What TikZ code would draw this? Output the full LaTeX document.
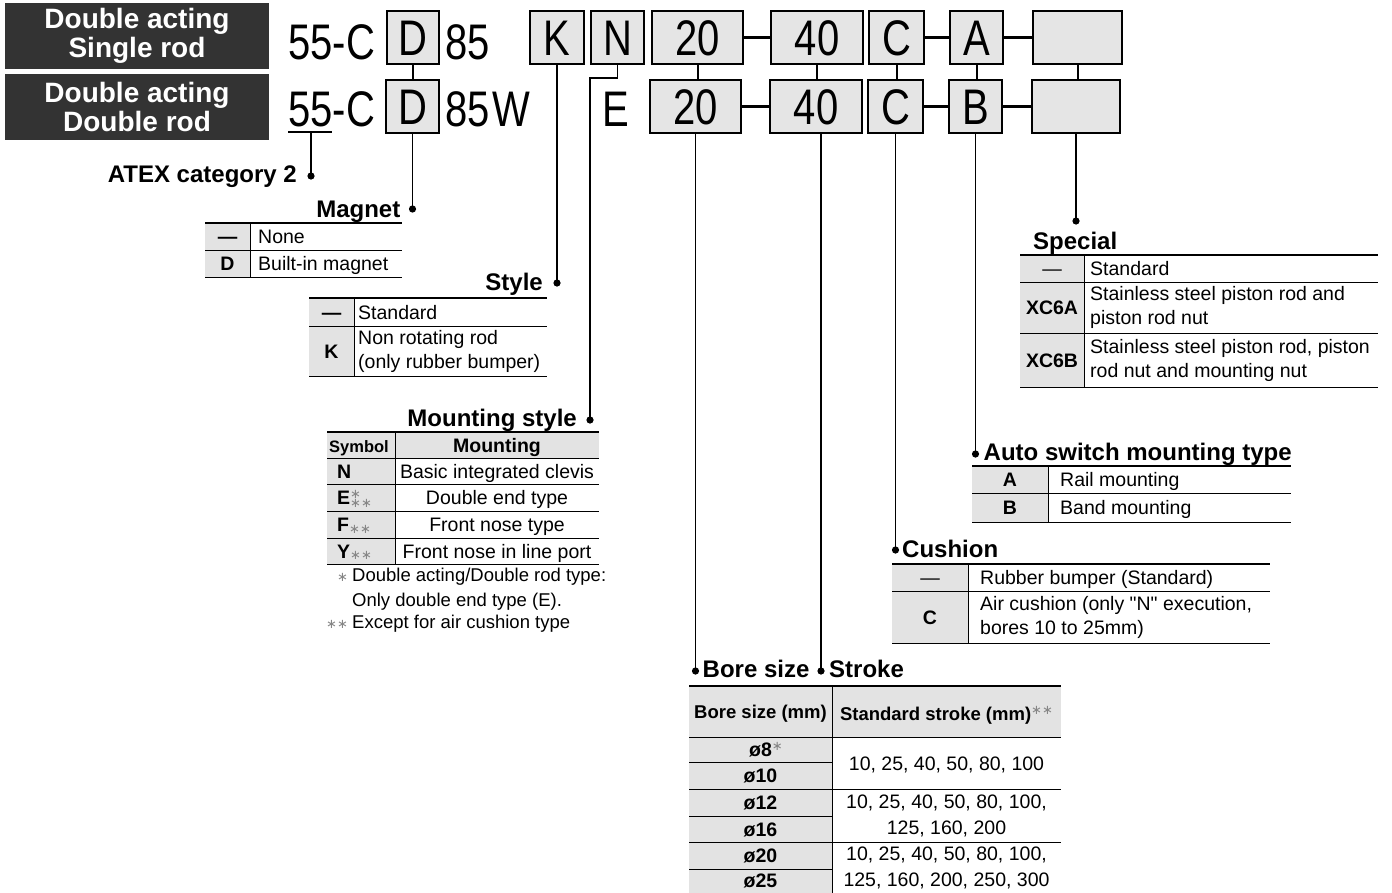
\documentclass[tikz,border=0pt]{standalone}
\usepackage{fontspec}
\setmainfont{Liberation Sans}
\newfontfamily\codefont{Liberation Sans}[FakeStretch=0.8]
\newfontfamily\quotefont{Liberation Sans}
\newfontfamily\starfont{DejaVu Sans}
\usetikzlibrary{positioning, calc}
\definecolor{hdrDark}{HTML}{333333}
\definecolor{boxGray}{HTML}{E5E5E5}
\definecolor{cellGray}{HTML}{E3E3E3}
\definecolor{starGray}{HTML}{858585}
\newcommand\txt{\fontsize{19.5}{24}\selectfont}
\newcommand\ttl{\fontsize{24}{28}\selectfont\bfseries}
\newcommand\codesz{\codefont\fontsize{50}{56}\selectfont}
\newcommand\gst[1]{\textcolor{starGray}{\starfont\mdseries\fontsize{13}{13}\selectfont #1}}
\newcommand\sq{{\quotefont"}}

\begin{document}
\begin{tikzpicture}[x=1pt, y=-1pt,
  hdr/.style={fill=hdrDark, text=white, minimum width=264pt, minimum height=66pt,
              inner sep=0pt, align=center, font=\fontsize{28}{29}\selectfont\bfseries},
  codebox/.style={draw, line width=2pt, fill=boxGray, minimum height=53pt, inner sep=0pt,
                  anchor=north west, font=\codesz, text height=36pt, text depth=0pt},
  codetxt/.style={inner sep=0pt, anchor=base west, font=\codesz},
  link/.style={line width=3.5pt},
  tie/.style={line width=2pt},
  lead/.style={line width=1.7pt},
  ttl/.style={inner sep=0pt, font=\ttl},
  cell/.style={inner sep=0pt, font=\txt, anchor=west, text height=14pt, text depth=0pt},
  cellc/.style={inner sep=0pt, font=\txt, text height=14pt, text depth=0pt},
  blk/.style={inner sep=0pt, font=\txt, align=left, anchor=west},
  sym/.style={inner sep=0pt, font=\txt\bfseries, text height=14pt, text depth=0pt},
  note/.style={inner sep=0pt, anchor=west, font=\fontsize{18.5}{22}\selectfont, text height=13pt, text depth=0pt},
  rule/.style={line width=2.4pt},
  thin/.style={line width=1pt},
]
\useasboundingbox (0,0) rectangle (1392,892);

% series headers
\node[hdr] (hdrA) at (137,36) {Double acting\\Single rod};
\node[hdr] (hdrB) at (137,106.5) {Double acting\\Double rod};

% model code, single rod
\node[codetxt] (pre1) at (288,59) {55-C};
\node[codebox, minimum width=52pt] (d1) at (386,10) {D};
\node[codetxt] (ser1) at (445,59) {85};
\node[codebox, minimum width=54pt] (k1) at (529,10) {K};
\node[codebox, minimum width=53pt] (n1) at (590,10) {N};
\node[codebox, minimum width=91pt] (bore1) at (651,10) {20};
\node[codebox, minimum width=92pt] (strk1) at (770,10) {40};
\node[codebox, minimum width=55pt] (cush1) at (868,10) {C};
\node[codebox, minimum width=53pt] (sw1) at (949,10) {A};
\node[codebox, minimum width=89pt] (spc1) at (1032,10) {};

% model code, double rod
\node[codetxt] (pre2) at (288,126) {55-C};
\node[codebox, minimum width=53pt] (d2) at (385,79) {D};
\node[codetxt] (ser2) at (445,126) {85\kern3pt W};
\node[codetxt, anchor=base] (mnt2) at (616,126) {E};
\node[codebox, minimum width=91pt] (bore2) at (649,79) {20};
\node[codebox, minimum width=92pt] (strk2) at (769,79) {40};
\node[codebox, minimum width=55pt] (cush2) at (867,79) {C};
\node[codebox, minimum width=53pt] (sw2) at (948,79) {B};
\node[codebox, minimum width=88pt] (spc2) at (1031,79) {};

\draw[link] (bore1) -- (strk1);
\draw[link] (cush1) -- (sw1);
\draw[link] (sw1) -- (spc1);
\draw[link] (bore2) -- (strk2);
\draw[link] (cush2) -- (sw2);
\draw[link] (sw2) -- (spc2);
\foreach \u/\l in {d1/d2, bore1/bore2, strk1/strk2, cush1/cush2, sw1/sw2, spc1/spc2}
  \draw[tie] (\u.south) -- (\u.south |- \l.north);

% leaders
\draw[lead] ([yshift=-6pt]pre2.base west) -- ++(44,0);
\draw[lead] ([xshift=23pt,yshift=-6pt]pre2.base west) -- ++(0,44) coordinate (dAtex);
\draw[lead] (d2.south) -- ++(0,75) coordinate (dMag);
\draw[lead] (k1.south) -- ++(0,218) coordinate (dSty);
\draw[lead] (n1.south) -- ++(0,13) -| ++(-27.5,342) coordinate (dMnt);
\draw[lead] (bore2.south) -- ++(0,537) coordinate (dBore);
\draw[lead] ([xshift=5pt]strk2.south) -- ++(0,537) coordinate (dStrk);
\draw[lead] (cush2.south) -- ++(0,416) coordinate (dCush);
\draw[lead] (sw2.south) -- ++(0,320) coordinate (dSw);
\draw[lead] (spc2.south) -- ++(0,87) coordinate (dSpc);
\foreach \d in {dAtex, dMag, dSty, dMnt, dBore, dStrk, dCush, dSw, dSpc}
  \fill (\d) circle (3.6pt);

% titles
\node[ttl, anchor=base east] (tAtex) at ([xshift=-14pt,yshift=-6pt]dAtex) {ATEX category 2};
\node[ttl, anchor=base east] (tMag) at ([xshift=-12pt,yshift=-8pt]dMag) {Magnet};
\node[ttl, anchor=base east] (tSty) at ([xshift=-14pt,yshift=-7pt]dSty) {Style};
\node[ttl, anchor=base east] (tMnt) at ([xshift=-13pt,yshift=-6pt]dMnt) {Mounting style};
\node[ttl, anchor=base west] (tSpc) at ([xshift=-43pt,yshift=-28pt]dSpc) {Special};
\node[ttl, anchor=base west] (tSw) at ([xshift=8pt,yshift=-6pt]dSw) {Auto switch mounting type};
\node[ttl, anchor=base west] (tCush) at ([xshift=6.5pt,yshift=-7pt]dCush) {Cushion};
\node[ttl, anchor=base west] (tBore) at ([xshift=7pt,yshift=-6pt]dBore) {Bore size};
\node[ttl, anchor=base west] (tStrk) at ([xshift=8pt,yshift=-6pt]dStrk) {Stroke};

% magnet table
\fill[cellGray] (205,223) rectangle (250,277);
\draw[thin] (205,250) -- (402,250) (205,277) -- (402,277) (250,223) -- (250,277);
\draw[rule] (205,223) -- (402,223);
\node[sym] (magN) at (227.5,236.5) {—};
\node[cell] (magNt) at (258,236.5) {None};
\node[sym] (magD) at (227.5,263.5) {D};
\node[cell] (magDt) at (258,263.5) {Built-in magnet};

% style table
\fill[cellGray] (309,298) rectangle (354,376);
\draw[thin] (309,326) -- (547,326) (309,376) -- (547,376) (354,298) -- (354,376);
\draw[rule] (309,298) -- (547,298);
\node[sym] (styN) at (331.5,312) {—};
\node[cell] (styNt) at (358,312) {Standard};
\node[sym] (styK) at (331.5,351) {K};
\node[blk] (styKt) at (358,351) {Non rotating rod\\(only rubber bumper)};

% mounting style table
\fill[cellGray] (327,432) rectangle (395,564);
\fill[cellGray] (395,432) rectangle (599,458);
\foreach \y in {458,484,511,538,564}
  \draw[thin] (327,\y) -- (599,\y);
\draw[thin] (395,432) -- (395,564);
\draw[rule] (327,432) -- (599,432);
\node[sym, anchor=west, font=\fontsize{16.5}{17}\selectfont\bfseries] (mSym) at (329,445) {Symbol};
\node[sym] (mHd) at (497,445) {Mounting};
\node[sym, anchor=west] (mN) at (337,471) {N};
\node[sym, anchor=west] (mE) at (337,497.5) {E\rlap{\raisebox{6pt}{\gst{∗}}}\raisebox{-2.5pt}{\gst{∗∗}}};
\node[sym, anchor=west] (mF) at (337,524.5) {F\raisebox{-1.5pt}{\gst{∗∗}}};
\node[sym, anchor=west] (mY) at (337,551) {Y\raisebox{-1.5pt}{\gst{∗∗}}};
\node[cellc] (mNt) at (497,471) {Basic integrated clevis};
\node[cellc] (mEt) at (497,497.5) {Double end type};
\node[cellc] (mFt) at (497,524.5) {Front nose type};
\node[cellc] (mYt) at (497,551) {Front nose in line port};
\node[note] (nS1) at (337,575) {\gst{∗}};
\node[note] (nt1) at (352,575) {Double acting/Double rod type:};
\node[note] (nt2) at (352,600) {Only double end type (E).};
\node[note] (nS2) at (326,622) {\gst{∗∗}};
\node[note] (nt3) at (352,622) {Except for air cushion type};

% special table
\fill[cellGray] (1020,255) rectangle (1084,387);
\foreach \y in {282,333,387}
  \draw[thin] (1020,\y) -- (1378,\y);
\draw[thin] (1084,255) -- (1084,387);
\draw[rule] (1020,255) -- (1378,255);
\node[cellc] (spN) at (1052,268.5) {—};
\node[cell] (spNt) at (1090,268.5) {Standard};
\node[sym] (spA) at (1052,307.5) {XC6A};
\node[blk] (spAt) at (1090,307.5) {Stainless steel piston rod and\\piston rod nut};
\node[sym] (spB) at (1052,360) {XC6B};
\node[blk] (spBt) at (1090,360) {Stainless steel piston rod, piston\\rod nut and mounting nut};

% auto switch table
\fill[cellGray] (972,466) rectangle (1048,522);
\foreach \y in {493,522}
  \draw[thin] (972,\y) -- (1291,\y);
\draw[thin] (1048,466) -- (1048,522);
\draw[rule] (972,466) -- (1291,466);
\node[sym] (swA) at (1010,479.5) {A};
\node[cell] (swAt) at (1060,479.5) {Rail mounting};
\node[sym] (swB) at (1010,507.5) {B};
\node[cell] (swBt) at (1060,507.5) {Band mounting};

% cushion table
\fill[cellGray] (892,564) rectangle (968,643);
\foreach \y in {591,643}
  \draw[thin] (892,\y) -- (1270,\y);
\draw[thin] (968,564) -- (968,643);
\draw[rule] (892,564) -- (1270,564);
\node[cellc] (cuN) at (930,577.5) {—};
\node[cell] (cuNt) at (980,577.5) {Rubber bumper (Standard)};
\node[sym] (cuC) at (930,617) {C};
\node[blk] (cuCt) at (980,617) {Air cushion (only \sq N\sq{} execution,\\bores 10 to 25mm)};

% bore size / stroke table
\fill[cellGray] (689,686) rectangle (832,893);
\fill[cellGray] (832,686) rectangle (1061,737);
\foreach \y in {737,789,842}
  \draw[thin] (689,\y) -- (1061,\y);
\foreach \y in {762,816,869}
  \draw[thin] (689,\y) -- (832,\y);
\draw[thin] (832,686) -- (832,893);
\draw[rule] (689,686) -- (1061,686);
\node[sym, font=\fontsize{18.5}{20}\selectfont\bfseries] (bHd) at (760.5,711.5) {Bore size (mm)};
\node[sym, font=\fontsize{18.5}{20}\selectfont\bfseries] (sHd) at (946.5,713) {Standard stroke (mm)\raisebox{6pt}{\gst{∗∗}}};
\node[sym] (b8) at (760.5,749.5) {ø8\rlap{\raisebox{6.5pt}{\gst{∗}}}};
\node[sym] (b10) at (760.5,775.5) {ø10};
\node[sym] (b12) at (760.5,802.5) {ø12};
\node[sym] (b16) at (760.5,829) {ø16};
\node[sym] (b20) at (760.5,855.5) {ø20};
\node[sym] (b25) at (760.5,880.5) {ø25};
\node[cellc] (s1) at (946.5,763) {10, 25, 40, 50, 80, 100};
\node[blk, anchor=center, align=center, font=\fontsize{19.5}{26}\selectfont] (s2) at (946.5,815.5) {10, 25, 40, 50, 80, 100,\\125, 160, 200};
\node[blk, anchor=center, align=center, font=\fontsize{19.5}{26}\selectfont] (s3) at (946.5,868) {10, 25, 40, 50, 80, 100,\\125, 160, 200, 250, 300};
\end{tikzpicture}
\end{document}
